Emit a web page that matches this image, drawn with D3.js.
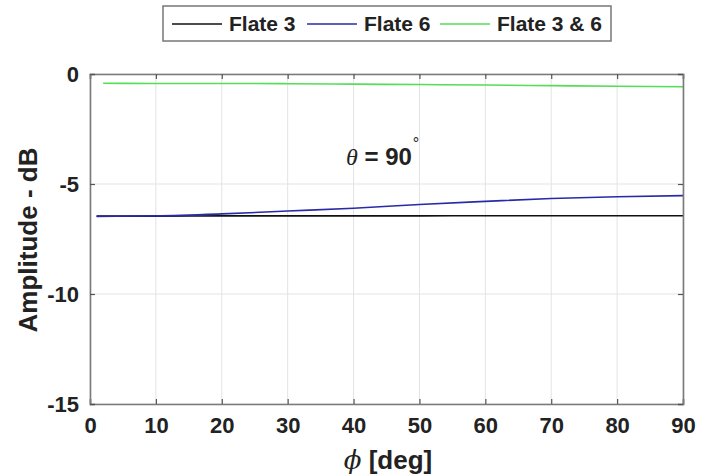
<!DOCTYPE html>
<html><head><meta charset="utf-8">
<script src="https://cdn.jsdelivr.net/npm/d3@7"></script>
<style>
body{margin:0;background:#fff;}
text{font-family:"Liberation Sans",Arial,sans-serif;font-weight:bold;fill:#222;}
</style></head>
<body><svg id="c" width="712" height="476"></svg>
<script>
const seriesNames = ["Flate 3", "Flate 6", "Flate 3 & 6"];
const seriesColors = ["#111111", "#2a2aa8", "#55dd55"];
const phiFlate3 = [1, 10, 20, 30, 40, 50, 60, 70, 80, 90];
const ampFlate3 = [-6.46, -6.46, -6.45, -6.45, -6.45, -6.45, -6.44, -6.44, -6.44, -6.44];
const phiFlate6 = [1, 10, 20, 30, 40, 50, 60, 70, 80, 90];
const ampFlate6 = [-6.47, -6.45, -6.36, -6.23, -6.10, -5.93, -5.79, -5.66, -5.58, -5.53];
const phiFlate36 = [2, 10, 20, 30, 40, 50, 60, 70, 80, 90];
const ampFlate36 = [-0.42, -0.43, -0.43, -0.44, -0.46, -0.48, -0.50, -0.53, -0.56, -0.58];
const xTicks = [0, 10, 20, 30, 40, 50, 60, 70, 80, 90];
const yTicks = [0, -5, -10, -15];

const svg = d3.select("#c");
const L = 90, R = 683, T = 74, B = 404;
const x = d3.scaleLinear().domain([0, 90]).range([L, R]);
const y = d3.scaleLinear().domain([-15, 0]).range([B, T]);

// grid
const g = svg.append("g");
g.selectAll(".gx").data(xTicks).enter().append("line")
  .attr("x1", d => x(d)).attr("x2", d => x(d)).attr("y1", T).attr("y2", B)
  .attr("stroke", "#e3e3e3").attr("stroke-width", 1);
g.selectAll(".gy").data(yTicks).enter().append("line")
  .attr("y1", d => y(d)).attr("y2", d => y(d)).attr("x1", L).attr("x2", R)
  .attr("stroke", "#e3e3e3").attr("stroke-width", 1);

// data lines
const series = [
  {phi: phiFlate3, amp: ampFlate3},
  {phi: phiFlate6, amp: ampFlate6},
  {phi: phiFlate36, amp: ampFlate36}
];
const line = d3.line().x(d => x(d[0])).y(d => y(d[1])).curve(d3.curveMonotoneX);
series.forEach((s, i) => {
  svg.append("path").datum(s.phi.map((p, j) => [p, s.amp[j]]))
    .attr("d", line).attr("fill", "none")
    .attr("stroke", seriesColors[i]).attr("stroke-width", 1.6);
});

// axes
const fmt = d => String(d);
const axB = svg.append("g").attr("transform", `translate(0,${B})`)
  .call(d3.axisBottom(x).tickValues(xTicks).tickSize(-5).tickPadding(13).tickFormat(fmt));
const axT = svg.append("g").attr("transform", `translate(0,${T})`)
  .call(d3.axisTop(x).tickValues(xTicks).tickSize(-5).tickFormat(""));
const axL = svg.append("g").attr("transform", `translate(${L},0)`)
  .call(d3.axisLeft(y).tickValues(yTicks).tickSize(-5).tickPadding(11).tickFormat(fmt));
const axR = svg.append("g").attr("transform", `translate(${R},0)`)
  .call(d3.axisRight(y).tickValues(yTicks).tickSize(-5).tickFormat(""));
[axB, axT, axL, axR].forEach(a => {
  a.select(".domain").attr("stroke", "#7a7a7a").attr("stroke-width", 1.6);
  a.selectAll(".tick line").attr("stroke", "#555").attr("stroke-width", 1.2);
  a.selectAll(".tick text").style("font-size", "22px").style("font-family", "Liberation Sans, Arial, sans-serif")
    .style("font-weight", "bold").attr("fill", "#222");
});

// axis labels
svg.append("text").attr("x", 388).attr("y", 469).attr("text-anchor", "middle")
  .style("font-size", "26px")
  .html('<tspan style="font-family:\'DejaVu Serif\',serif;font-style:italic;font-weight:normal">ϕ</tspan> [deg]');
svg.append("text").attr("transform", "translate(37,240) rotate(-90)").attr("text-anchor", "middle")
  .style("font-size", "26px").text("Amplitude - dB");

// annotation
const ann = svg.append("text").attr("x", 346).attr("y", 165).style("font-size", "24px");
ann.append("tspan").style("font-family", "'Liberation Serif',serif").style("font-style", "italic").style("font-weight", "normal").text("θ");
ann.append("tspan").text(" = 90");
ann.append("tspan").attr("dx", 1).attr("dy", -16).style("font-size", "16px").style("font-weight", "normal").text("°");

// legend
const lg = svg.append("g");
lg.append("rect").attr("x", 163).attr("y", 6).attr("width", 448).attr("height", 35)
  .attr("fill", "#fff").attr("stroke", "#777").attr("stroke-width", 1.5);
const lgX = [172, 307, 440];
seriesNames.forEach((n, i) => {
  lg.append("line").attr("x1", lgX[i]).attr("x2", lgX[i] + 50).attr("y1", 24).attr("y2", 24)
    .attr("stroke", seriesColors[i]).attr("stroke-width", 1.6);
  lg.append("text").attr("x", lgX[i] + 57).attr("y", 31).style("font-size", "21px").text(n);
});
</script></body></html>
